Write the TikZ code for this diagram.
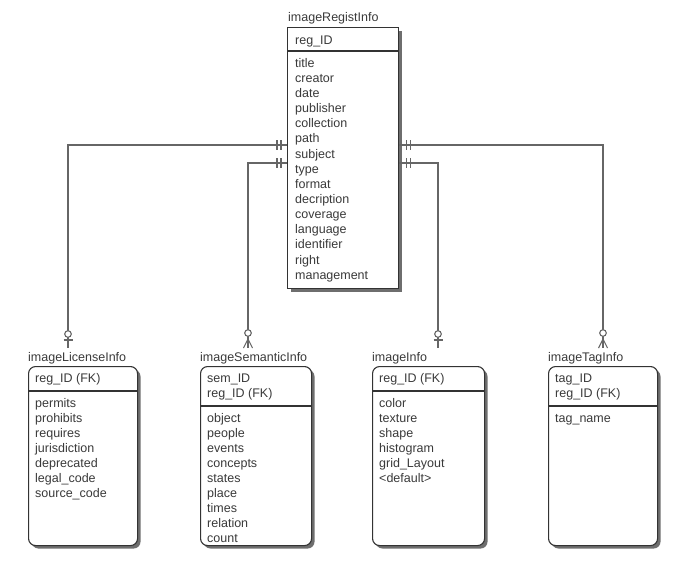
\documentclass[tikz,border=0pt]{standalone}
\usepackage{fontspec}
\setmainfont{Liberation Sans}
\usetikzlibrary{shadows}
\definecolor{txt}{HTML}{3A3A3A}
\definecolor{edge}{HTML}{333333}
\definecolor{conn}{HTML}{666666}
\definecolor{shd}{HTML}{6E6E6E}
\begin{document}
\begin{tikzpicture}[x=1pt,y=-1pt,
  font=\fontsize{12.5}{14}\selectfont,
  every node/.style={text=txt},
  entbox/.style={draw=edge, line width=1.1pt, fill=white, inner sep=0pt, anchor=north west,
     drop shadow={shadow xshift=3pt, shadow yshift=-3pt, fill=shd, opacity=1}},
  depbox/.style={entbox, rounded corners=7pt},
  attr/.style={anchor=base west, inner sep=0pt},
  ttl/.style={anchor=base west, inner sep=0pt},
  sepline/.style={draw=edge, line width=1.1pt},
  link/.style={draw=conn, line width=1.3pt},
  cardmark/.style={draw=conn, line width=1.1pt}
]
\useasboundingbox (0,0) rectangle (690,560);

% ---------- main entity ----------
\node[ttl] (mainT) at (288,21) {imageRegistInfo};
\node[entbox, minimum width=111pt, minimum height=261pt] (main) at (287,27) {};
\node[attr] (mainK) at (295,44) {reg\_ID};
\draw[sepline] (main.west |- 0,51) -- (main.east |- 0,51);
\foreach \t [count=\i] in {title,creator,date,publisher,collection,path,subject,type,format,decription,coverage,language,identifier,right,management}
  \node[attr] (m\i) at (295,{52+15.15*\i}) {\t};

% ---------- child entities ----------
% imageLicenseInfo
\node[ttl] (licT) at (28,361) {imageLicenseInfo};
\node[depbox, minimum width=109pt, minimum height=179pt] (lic) at (28,366) {};
\node[attr] (licK) at (35,382) {reg\_ID (FK)};
\draw[sepline] (lic.west |- 0,391) -- (lic.east |- 0,391);
\foreach \t [count=\i] in {permits,prohibits,requires,jurisdiction,deprecated,legal\_code,source\_code}
  \node[attr] (l\i) at (35,{392+15*\i}) {\t};

% imageSemanticInfo
\node[ttl] (semT) at (200,361) {imageSemanticInfo};
\node[depbox, minimum width=111pt, minimum height=179pt] (sem) at (200,366) {};
\node[attr] (semK1) at (207,382) {sem\_ID};
\node[attr] (semK2) at (207,397) {reg\_ID (FK)};
\draw[sepline] (sem.west |- 0,406) -- (sem.east |- 0,406);
\foreach \t [count=\i] in {object,people,events,concepts,states,place,times,relation,count}
  \node[attr] (s\i) at (207,{407+15*\i}) {\t};

% imageInfo
\node[ttl] (infT) at (372,361) {imageInfo};
\node[depbox, minimum width=112pt, minimum height=179pt] (inf) at (372,366) {};
\node[attr] (infK) at (379,382) {reg\_ID (FK)};
\draw[sepline] (inf.west |- 0,391) -- (inf.east |- 0,391);
\foreach \t [count=\i] in {color,texture,shape,histogram,grid\_Layout,<default>}
  \node[attr] (f\i) at (379,{392+15*\i}) {\t};

% imageTagInfo
\node[ttl] (tagT) at (548,361) {imageTagInfo};
\node[depbox, minimum width=109pt, minimum height=179pt] (tag) at (548,366) {};
\node[attr] (tagK1) at (555,382) {tag\_ID};
\node[attr] (tagK2) at (555,397) {reg\_ID (FK)};
\draw[sepline] (tag.west |- 0,406) -- (tag.east |- 0,406);
\node[attr] (t1) at (555,422) {tag\_name};

% ---------- connectors ----------
\coordinate (cL1) at (68,145);
\coordinate (cL2) at (248,163);
\coordinate (cR1) at (603,145);
\coordinate (cR2) at (438,163);
\coordinate (eL1) at (68,348);
\coordinate (eL2) at (248,348);
\coordinate (eR1) at (603,348);
\coordinate (eR2) at (438,348);

\draw[link] (main.west |- cL1) -- (cL1) -- (eL1);
\draw[link] (main.west |- cL2) -- (cL2) -- (eL2);
\draw[link] (main.east |- cR1) -- (cR1) -- (eR1);
\draw[link] (main.east |- cR2) -- (cR2) -- (eR2);

% one-and-only-one bars at the parent
\foreach \c in {cL1,cL2}{
  \draw[cardmark] ([xshift=-6pt,yshift=5pt]main.west |- \c) -- ([xshift=-6pt,yshift=-5pt]main.west |- \c);
  \draw[cardmark] ([xshift=-10pt,yshift=5pt]main.west |- \c) -- ([xshift=-10pt,yshift=-5pt]main.west |- \c);
}
\foreach \c in {cR1,cR2}{
  \draw[cardmark] ([xshift=7pt,yshift=5pt]main.east |- \c) -- ([xshift=7pt,yshift=-5pt]main.east |- \c);
  \draw[cardmark] ([xshift=11pt,yshift=5pt]main.east |- \c) -- ([xshift=11pt,yshift=-5pt]main.east |- \c);
}

% zero-or-one at imageLicenseInfo and imageInfo
\foreach \e in {eL1,eR2}{
  \draw[cardmark, fill=white] ([yshift=14pt]\e) circle (3.3pt);
  \draw[cardmark] ([xshift=-4.5pt,yshift=8pt]\e) -- ([xshift=4.5pt,yshift=8pt]\e);
}
% zero-or-many at imageSemanticInfo and imageTagInfo
\foreach \e in {eL2,eR1}{
  \draw[cardmark, fill=white] ([yshift=15pt]\e) circle (3.3pt);
  \draw[cardmark] ([yshift=9pt]\e) -- ([xshift=-4.5pt]\e);
  \draw[cardmark] ([yshift=9pt]\e) -- ([xshift=4.5pt]\e);
}
\end{tikzpicture}
\end{document}
